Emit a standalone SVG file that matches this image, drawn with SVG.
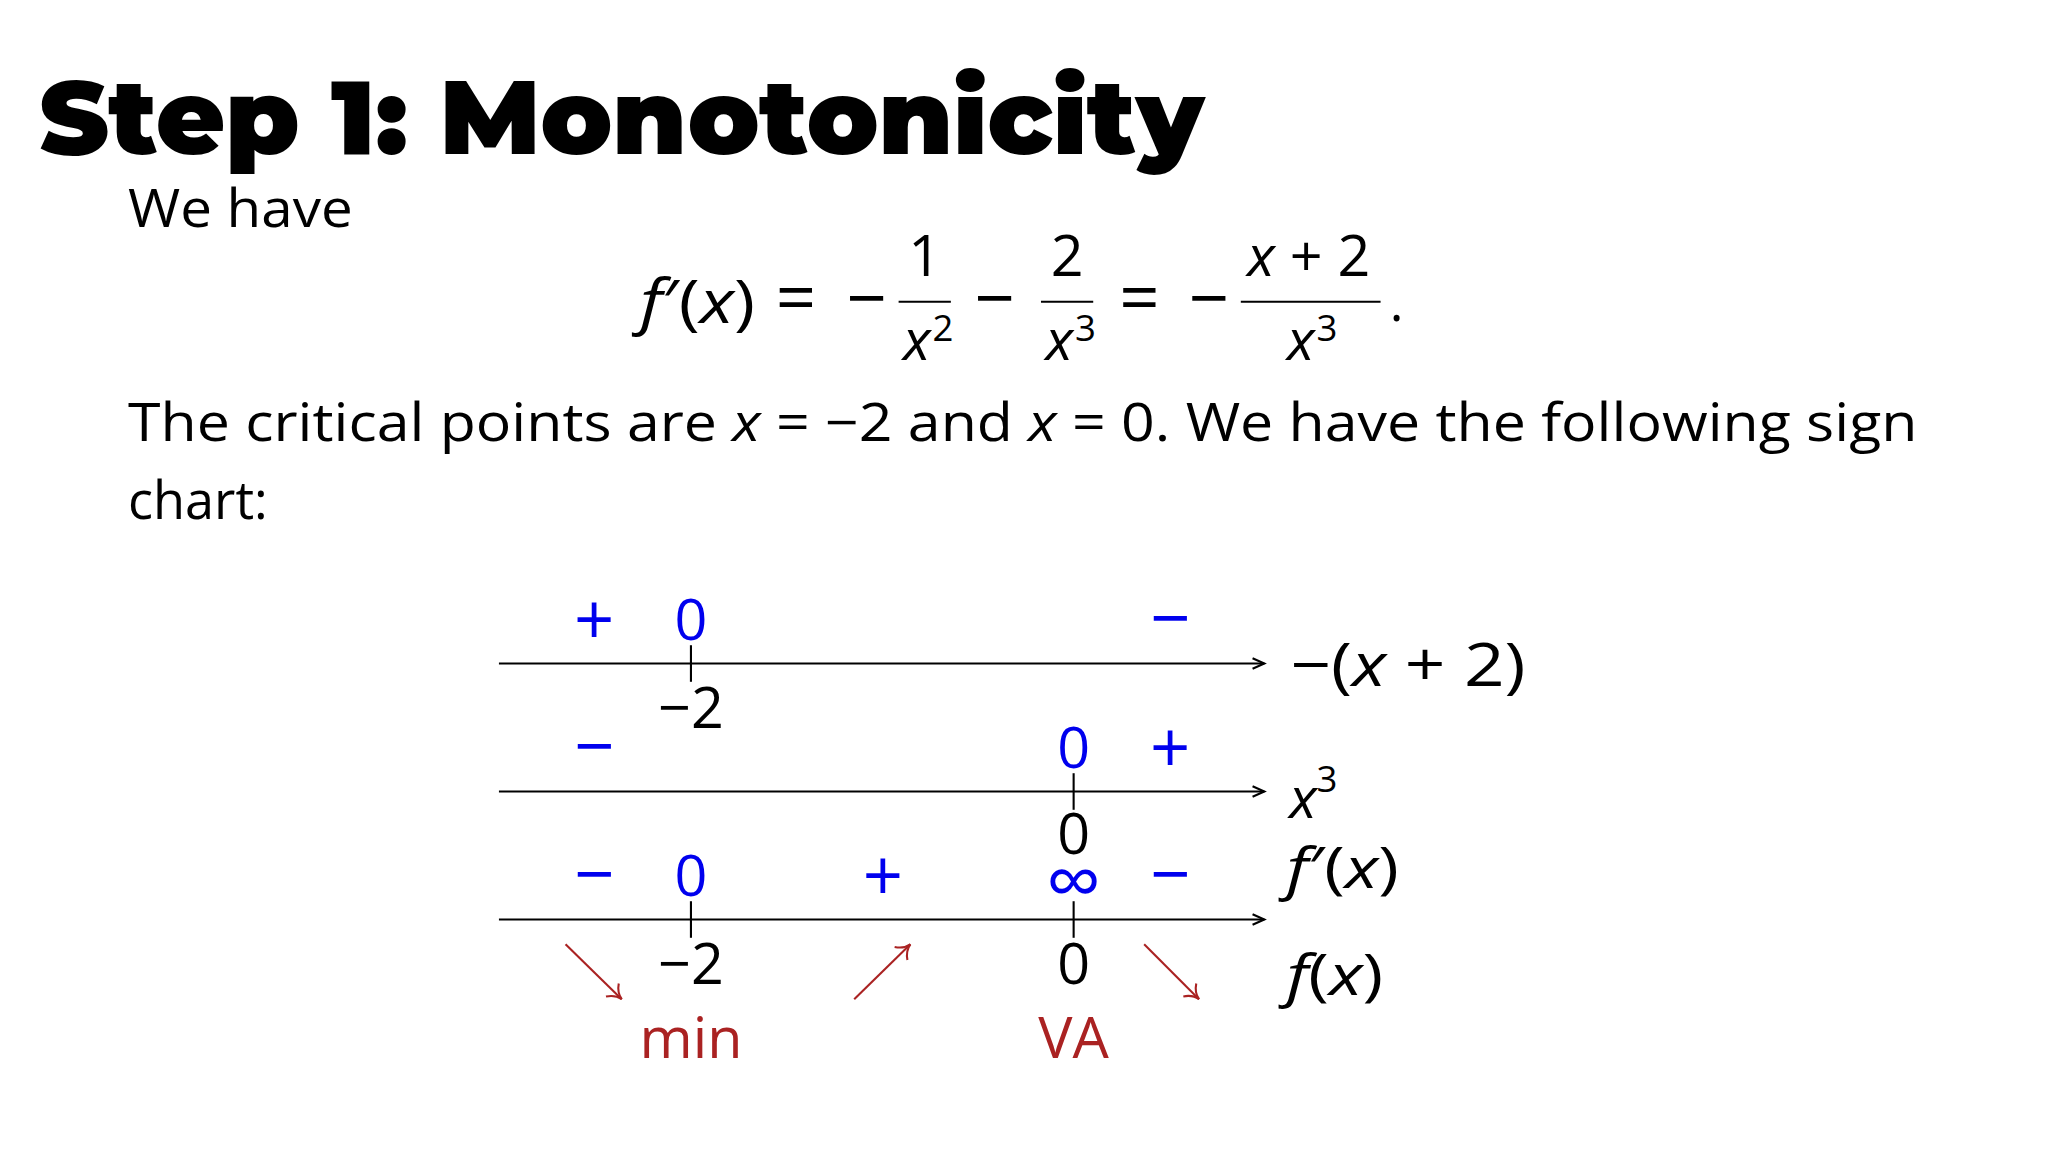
<svg xmlns="http://www.w3.org/2000/svg" width="2048" height="1152" viewBox="0 0 2048 1152">
<style>
text{font-family:"Open Sans","Noto Sans",sans-serif;font-size:40px;fill:#000}
.i{font-style:italic}
.b{fill:#0000ee}
.r{fill:#aa2222}
.m{text-anchor:middle}
.s{font-size:54px}
.n{font-size:44px}
.ln{stroke:#000;stroke-width:1.6;fill:none}
.ra{stroke:#aa2222;stroke-width:1.6;fill:none}
</style>
<defs>
<marker id="ah" markerWidth="12" markerHeight="10" refX="10" refY="5" orient="auto" markerUnits="userSpaceOnUse"><path d="M1,1 L10,5 L1,9" fill="none" stroke="#000" stroke-width="1.6"/></marker>
<marker id="rh" markerWidth="16" markerHeight="16" refX="12" refY="8" orient="auto" markerUnits="userSpaceOnUse"><path d="M2,1 Q6,7 12,8 Q6,9 2,15" fill="none" stroke="#aa2222" stroke-width="1.6"/></marker>
</defs>
<rect width="2048" height="1152" fill="#fff"/>
<g transform="scale(1.30612)">
<g id="title"><text x="30" y="118" style="font-family:'Montserrat','Noto Sans',sans-serif;font-weight:900;font-size:80px" textLength="892" lengthAdjust="spacingAndGlyphs">Step 1: Monotonicity</text></g>
<g id="text1"><text x="98" y="174" textLength="172" lengthAdjust="spacingAndGlyphs">We have</text></g>
<g id="formula">
<text x="490" y="247" style="font-size:46px" textLength="88" lengthAdjust="spacingAndGlyphs"><tspan class="i">f</tspan>′(<tspan class="i">x</tspan>)</text>
<text x="594" y="247" class="s">=</text><text x="648" y="247" class="s">−</text>
<text x="708" y="211" class="m n">1</text><line class="ln" x1="688" y1="231" x2="728" y2="231"/><text x="702" y="276" class="m n"><tspan class="i">x</tspan></text><text x="714" y="261" style="font-size:28px">2</text>
<text x="746" y="247" class="s">−</text>
<text x="817" y="211" class="m n">2</text><line class="ln" x1="797" y1="231" x2="837" y2="231"/><text x="811" y="276" class="m n"><tspan class="i">x</tspan></text><text x="823" y="261" style="font-size:28px">3</text>
<text x="857" y="247" class="s">=</text><text x="910" y="247" class="s">−</text>
<text x="1002" y="211" class="m n"><tspan class="i">x</tspan> + 2</text><line class="ln" x1="950" y1="231" x2="1057" y2="231"/><text x="996" y="276" class="m n"><tspan class="i">x</tspan></text><text x="1008" y="261" style="font-size:28px">3</text>
<text x="1064" y="246">.</text>
</g>
<g id="text2"><text x="98" y="338" textLength="1370" lengthAdjust="spacingAndGlyphs">The critical points are <tspan class="i">x</tspan> = −2 and <tspan class="i">x</tspan> = 0. We have the following sign</text><text x="98" y="397">chart:</text></g>
<g id="connectors">
<line class="ln" x1="382" y1="508" x2="968" y2="508" marker-end="url(#ah)"/>
<line class="ln" x1="382" y1="606" x2="968" y2="606" marker-end="url(#ah)"/>
<line class="ln" x1="382" y1="704" x2="968" y2="704" marker-end="url(#ah)"/>
<line class="ln" x1="529" y1="494" x2="529" y2="522"/>
<line class="ln" x1="822" y1="592" x2="822" y2="620"/>
<line class="ln" x1="529" y1="690" x2="529" y2="718"/>
<line class="ln" x1="822" y1="690" x2="822" y2="718"/>
<line class="ra" x1="433" y1="723" x2="476" y2="765" marker-end="url(#rh)"/>
<line class="ra" x1="654" y1="765" x2="697" y2="723" marker-end="url(#rh)"/>
<line class="ra" x1="876" y1="723" x2="918" y2="765" marker-end="url(#rh)"/>
</g>
<g id="row1">
<text x="455" y="494" class="b m s">+</text><text x="529" y="490" class="b m n">0</text><text x="896" y="492" class="b m s">−</text>
<text x="529" y="557" class="m n">−2</text>
<text x="988" y="525" style="font-size:46px" textLength="180" lengthAdjust="spacingAndGlyphs">−(<tspan class="i">x</tspan> + 2)</text>
</g>
<g id="row2">
<text x="455" y="590" class="b m s">−</text><text x="822" y="588" class="b m n">0</text><text x="896" y="592" class="b m s">+</text>
<text x="822" y="654" class="m n">0</text>
<text x="987" y="626" class="i n">x</text><text x="1008" y="606" style="font-size:28px">3</text>
</g>
<g id="row3">
<text x="985" y="680" style="font-size:44px" textLength="86" lengthAdjust="spacingAndGlyphs"><tspan class="i">f</tspan>′(<tspan class="i">x</tspan>)</text>
<text x="455" y="688" class="b m s">−</text><text x="529" y="686" class="b m n">0</text><text x="676" y="690" class="b m s">+</text><text x="822" y="696" class="b m" style="font-size:60px">∞</text><text x="896" y="688" class="b m s">−</text>
<text x="529" y="753" class="m n">−2</text><text x="822" y="753" class="m n">0</text>
<text x="985" y="762" style="font-size:44px" textLength="74" lengthAdjust="spacingAndGlyphs"><tspan class="i">f</tspan>(<tspan class="i">x</tspan>)</text>
<text x="529" y="810" class="r m n">min</text><text x="822" y="810" class="r m n">VA</text>
</g>
</g>
</svg>
